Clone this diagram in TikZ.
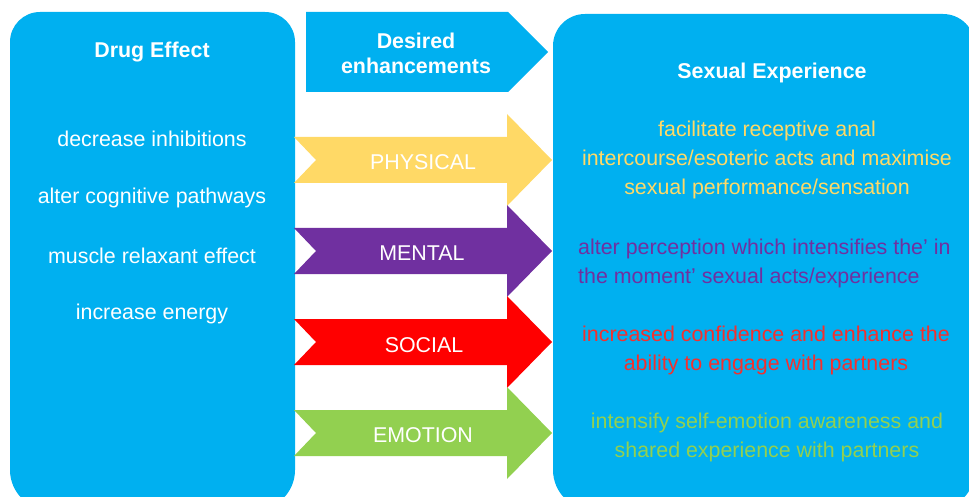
\documentclass[tikz,border=0pt]{standalone}
\usepackage{fontspec}
\setmainfont{Liberation Sans}
\definecolor{boxblue}{HTML}{00B0F0}
\definecolor{physyellow}{HTML}{FFD966}
\definecolor{mentpurple}{HTML}{7030A0}
\definecolor{socred}{HTML}{FF0000}
\definecolor{emogreen}{HTML}{92D050}
\definecolor{redtext}{HTML}{F4302E}
\begin{document}
\begin{tikzpicture}[x=1pt,y=-1pt,
  topround/.style={fill=boxblue, rounded corners=30pt},
  botround/.style={fill=boxblue, rounded corners=40pt},
  head/.style={text=white, font=\bfseries\fontsize{21.4}{25}\selectfont, align=center, inner sep=0pt},
  item/.style={text=white, font=\fontsize{21.4}{29}\selectfont, inner sep=0pt},
  armlabel/.style={text=white, font=\fontsize{21.4}{25}\selectfont, inner sep=0pt},
  desc/.style={font=\fontsize{21.4}{29}\selectfont, align=center, inner sep=0pt},
  pics/chevron/.style={code={
    \fill[#1] (294,-23) -- (507,-23) -- (507,-46) -- (552,0) -- (507,46) -- (507,23) -- (294,23) -- (316,0) -- cycle;}}
]
\useasboundingbox (0,0) rectangle (969,497);
\clip (0,0) rectangle (969,497);

% side boxes
\fill[topround] (10,12) rectangle (295,300);
\fill[botround] (10,200) rectangle (295,510);
\fill[topround, rounded corners=32pt] (553,14) rectangle (975,300);
\fill[botround] (553,200) rectangle (975,510);

% top pentagon
\fill[boxblue] (306,12) -- (508,12) -- (548,52) -- (508,92) -- (306,92) -- cycle;
\node[head] (desired) at (416,53.5) {Desired\\enhancements};

% left box text
\node[head] (drug) at (152,52) {Drug Effect};
\node[item] (i1) at (152,138.5) {decrease inhibitions};
\node[item] (i2) at (152,197.5) {alter cognitive pathways};
\node[item] (i3) at (152,255.5) {muscle relaxant effect};
\node[item] (i4) at (152,313.5) {increase energy};

% arrows
\pic at (0,160) {chevron=physyellow};
\pic at (0,251) {chevron=mentpurple};
\pic at (0,342) {chevron=socred};
\pic at (0,433) {chevron=emogreen};
\node[armlabel] (phys) at (423,162) {PHYSICAL};
\node[armlabel] (ment) at (422,253) {MENTAL};
\node[armlabel] (soc) at (424,345) {SOCIAL};
\node[armlabel] (emo) at (423,435) {EMOTION};

% right box text
\node[head] (sexexp) at (772,73) {Sexual Experience};
\node[desc, text=physyellow] (d1) at (767,160) {facilitate receptive anal\\intercourse/esoteric acts and maximise\\sexual performance/sensation};
\node[desc, text=mentpurple, align=left, anchor=west] (d2) at (578,263) {alter perception which intensifies the’ in\\the moment’ sexual acts/experience};
\node[desc, text=redtext] (d3) at (766,350) {increased confidence and enhance the\\ability to engage with partners};
\node[desc, text=emogreen] (d4) at (767,437.5) {intensify self-emotion awareness and\\shared experience with partners};
\end{tikzpicture}
\end{document}
